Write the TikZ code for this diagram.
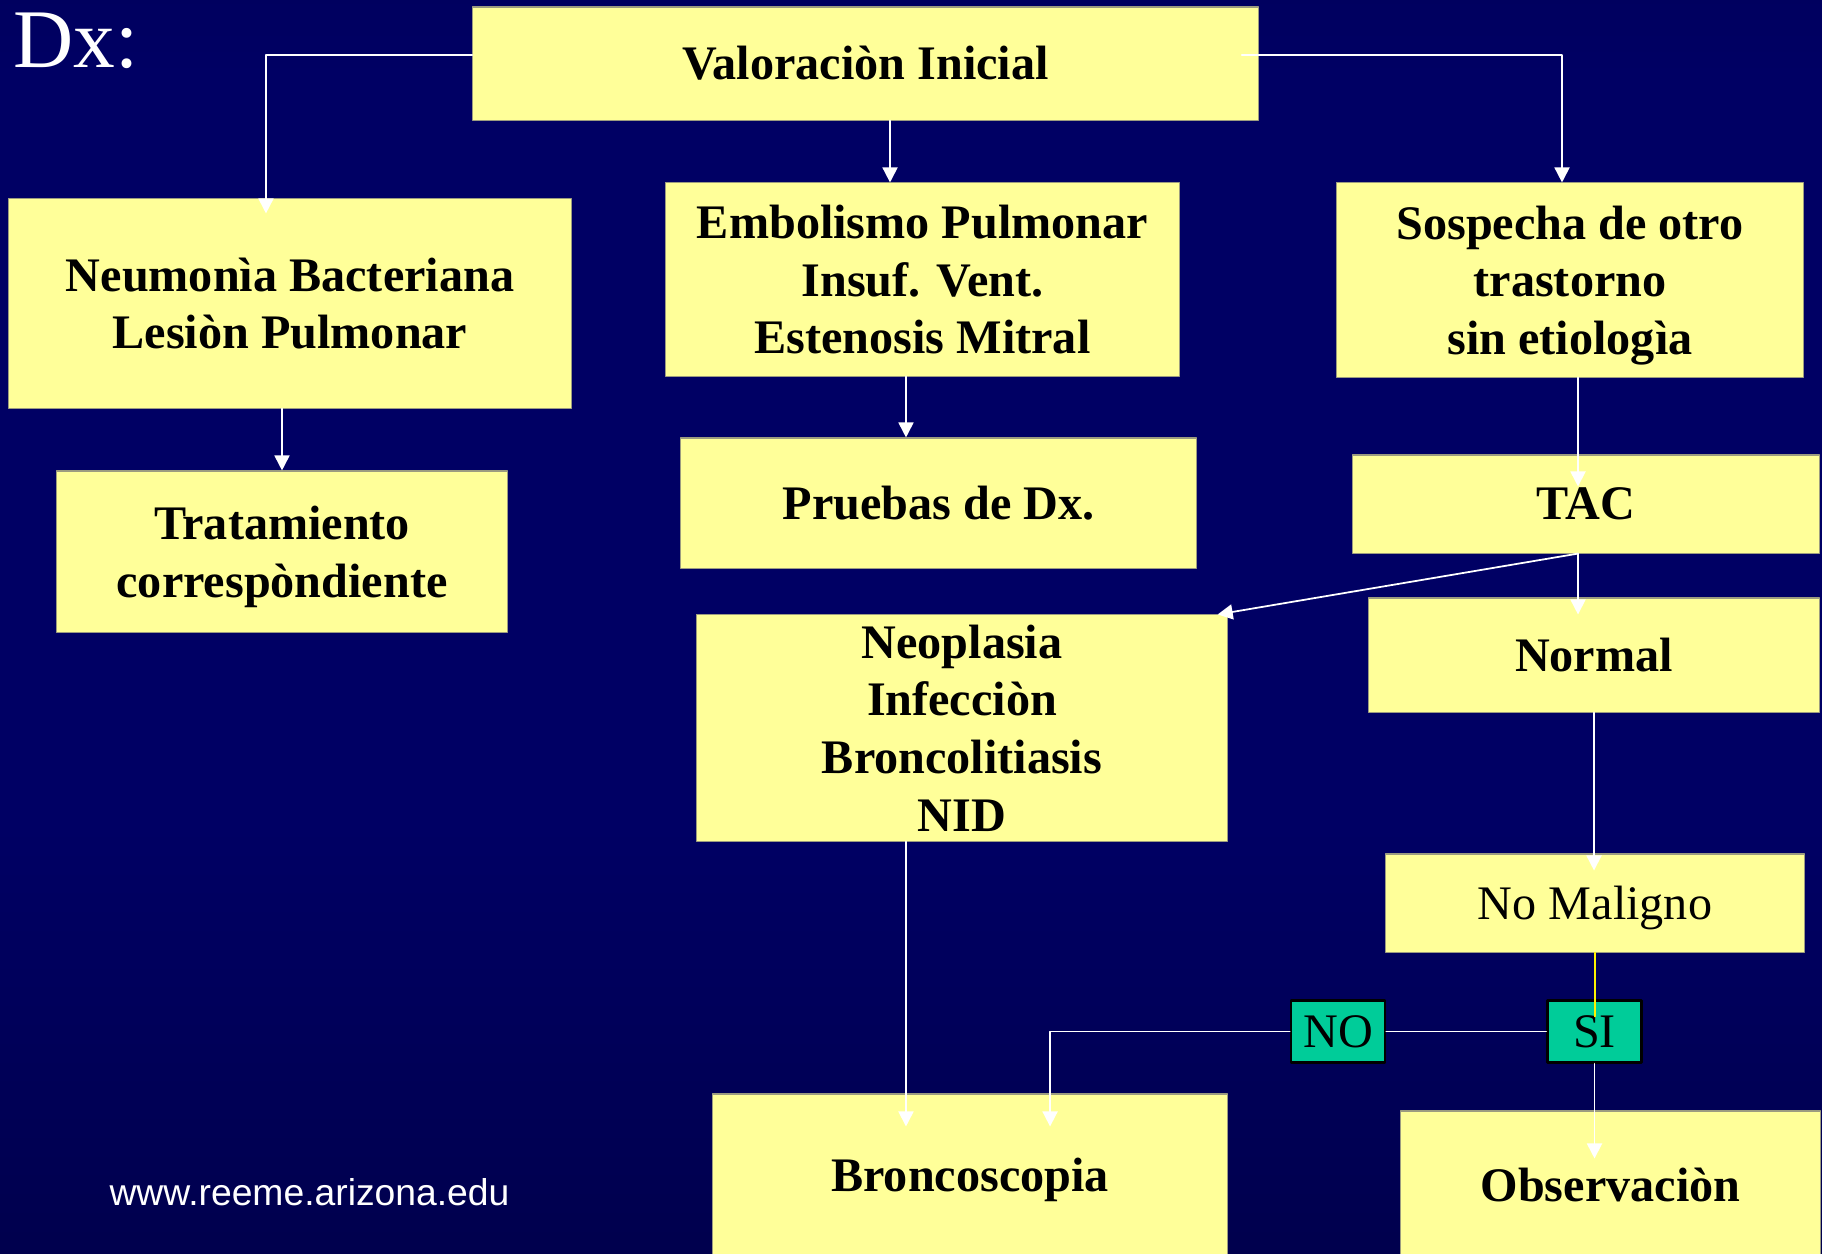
\documentclass[tikz,border=0pt]{standalone}
\usepackage{fontspec}
\setmainfont{Liberation Serif}
\newfontfamily\webfont{Liberation Sans}
\usetikzlibrary{arrows.meta}
\definecolor{boxfill}{HTML}{FFFF99}
\definecolor{boxline}{HTML}{9C9C80}
\definecolor{sifill}{HTML}{00CC99}
\definecolor{bgtop}{HTML}{000038}
\definecolor{bgmid}{HTML}{000064}
\definecolor{bgbot}{HTML}{00002C}
\pgfdeclareverticalshading{slidebg}{100bp}{color(0bp)=(bgbot); color(42bp)=(bgmid); color(72bp)=(bgmid); color(100bp)=(bgtop)}
\begin{document}
\begin{tikzpicture}[x=0.01cm, y=-0.01cm, line join=round, line cap=round,
  >={Triangle[width=0.15cm,length=0.15cm]},
  caja/.style={draw=boxline, line width=0.3pt, fill=boxfill, inner sep=0pt, align=center,
    font=\bfseries\fontsize{13.7}{16.4}\selectfont},
  cajan/.style={caja, font=\fontsize{13.7}{16.4}\selectfont},
  sino/.style={draw=black, line width=0.7pt, fill=sifill, inner sep=0pt,
    minimum width=0.94cm, minimum height=0.62cm, font=\fontsize{13.7}{16.4}\selectfont},
  link/.style={draw=white, line width=0.5pt},
  into/.style={shorten >=-#1}]
\useasboundingbox (0,0) rectangle (1822,1253);
\clip (0,0) rectangle (1822,1253);
\shade[shading=slidebg] (0,0) rectangle (1822,1253);

\node[white, font=\fontsize{23.7}{28}\selectfont, anchor=base west, inner sep=0pt] (dx) at (13,67) {Dx:};
\node[white, font=\webfont\fontsize{10.6}{12}\selectfont, anchor=base, inner sep=0pt] (web) at (309.5,1205) {www.reeme.arizona.edu};

\node[caja, minimum width=7.85cm, minimum height=1.13cm] (ini) at (865.5,63.5) {Valoraciòn Inicial};
\node[caja, minimum width=5.62cm, minimum height=2.09cm] (neu) at (290,303.5) {Neumonìa Bacteriana\\Lesiòn Pulmonar};
\node[caja, text depth=0pt, minimum width=4.50cm, minimum height=1.61cm] (tra) at (282,551.5) {Tratamiento\\correspòndiente};
\node[caja, minimum width=5.13cm, minimum height=1.93cm] (emb) at (922.5,279.5) {Embolismo Pulmonar\\Insuf. Vent.\\Estenosis Mitral};
\node[caja, minimum width=5.15cm, minimum height=1.30cm] (pru) at (938.5,503) {Pruebas de Dx.};
\node[caja, text depth=0pt, minimum width=4.66cm, minimum height=1.94cm] (sos) at (1570,280) {Sospecha de otro\\trastorno\\sin etiologìa};
\node[caja, minimum width=4.66cm, minimum height=0.98cm] (tac) at (1586,504) {TAC};
\node[caja, minimum width=5.30cm, minimum height=2.26cm] (neo) at (962,728) {Neoplasia\\Infecciòn\\Broncolitiasis\\NID};
\node[caja, minimum width=4.50cm, minimum height=1.14cm] (nor) at (1594,655) {Normal};
\node[cajan, text depth=0pt, minimum width=4.18cm, minimum height=0.98cm] (nom) at (1595,903) {No Maligno};
\node[sino] (no) at (1338,1031.5) {NO};
\node[sino] (si) at (1594.5,1031.5) {SI};
\node[caja, minimum width=5.14cm, minimum height=1.72cm] (bro) at (970,1180) {Broncoscopia};
\node[caja, minimum width=4.19cm, minimum height=1.48cm] (obs) at (1610.5,1185) {Observaciòn};

\coordinate (inidown) at ([xshift=0.245cm]ini.south);
\coordinate (embdown) at ([xshift=-0.165cm]emb.south);
\coordinate (tacout) at ([xshift=-0.08cm]tac.south);
\coordinate (neodown) at ([xshift=-0.56cm]neo.south);
\coordinate (nodown) at ([xshift=0.8cm]bro.north);

\draw[link, ->, into=0.15cm] ([yshift=0.085cm]ini.west) -| ([xshift=-0.24cm]neu.north);
\draw[link, ->] ([xshift=-0.17cm, yshift=0.085cm]ini.east) -| ([xshift=-0.08cm]sos.north);
\draw[link, ->] (inidown) -- (inidown |- emb.north);
\draw[link, ->] (tra.north |- neu.south) -- (tra.north);
\draw[link, ->] (embdown) -- (embdown |- pru.north);
\draw[link, ->, into=0.32cm] (tacout |- sos.south) -- (tacout |- tac.north);
\draw[link, ->] (tacout) -- ([xshift=-0.1cm]neo.north east);
\draw[link, ->, into=0.17cm] (tacout) -- (tacout |- nor.north);
\draw[link, ->, into=0.17cm] (nor.south) -- (nor.south |- nom.north);
\draw[yellow, line width=0.5pt] (nom.south) -- ([yshift=0.15cm]nom.south |- si.center);
\draw[link, ->, into=0.48cm] (si.south) -- (si.south |- obs.north);
\draw[link] (si.west) -- (no.east);
\draw[link, ->, into=0.33cm] (no.west) -| (nodown);
\draw[link, ->, into=0.33cm] (neodown) -- (neodown |- bro.north);
\end{tikzpicture}
\end{document}
